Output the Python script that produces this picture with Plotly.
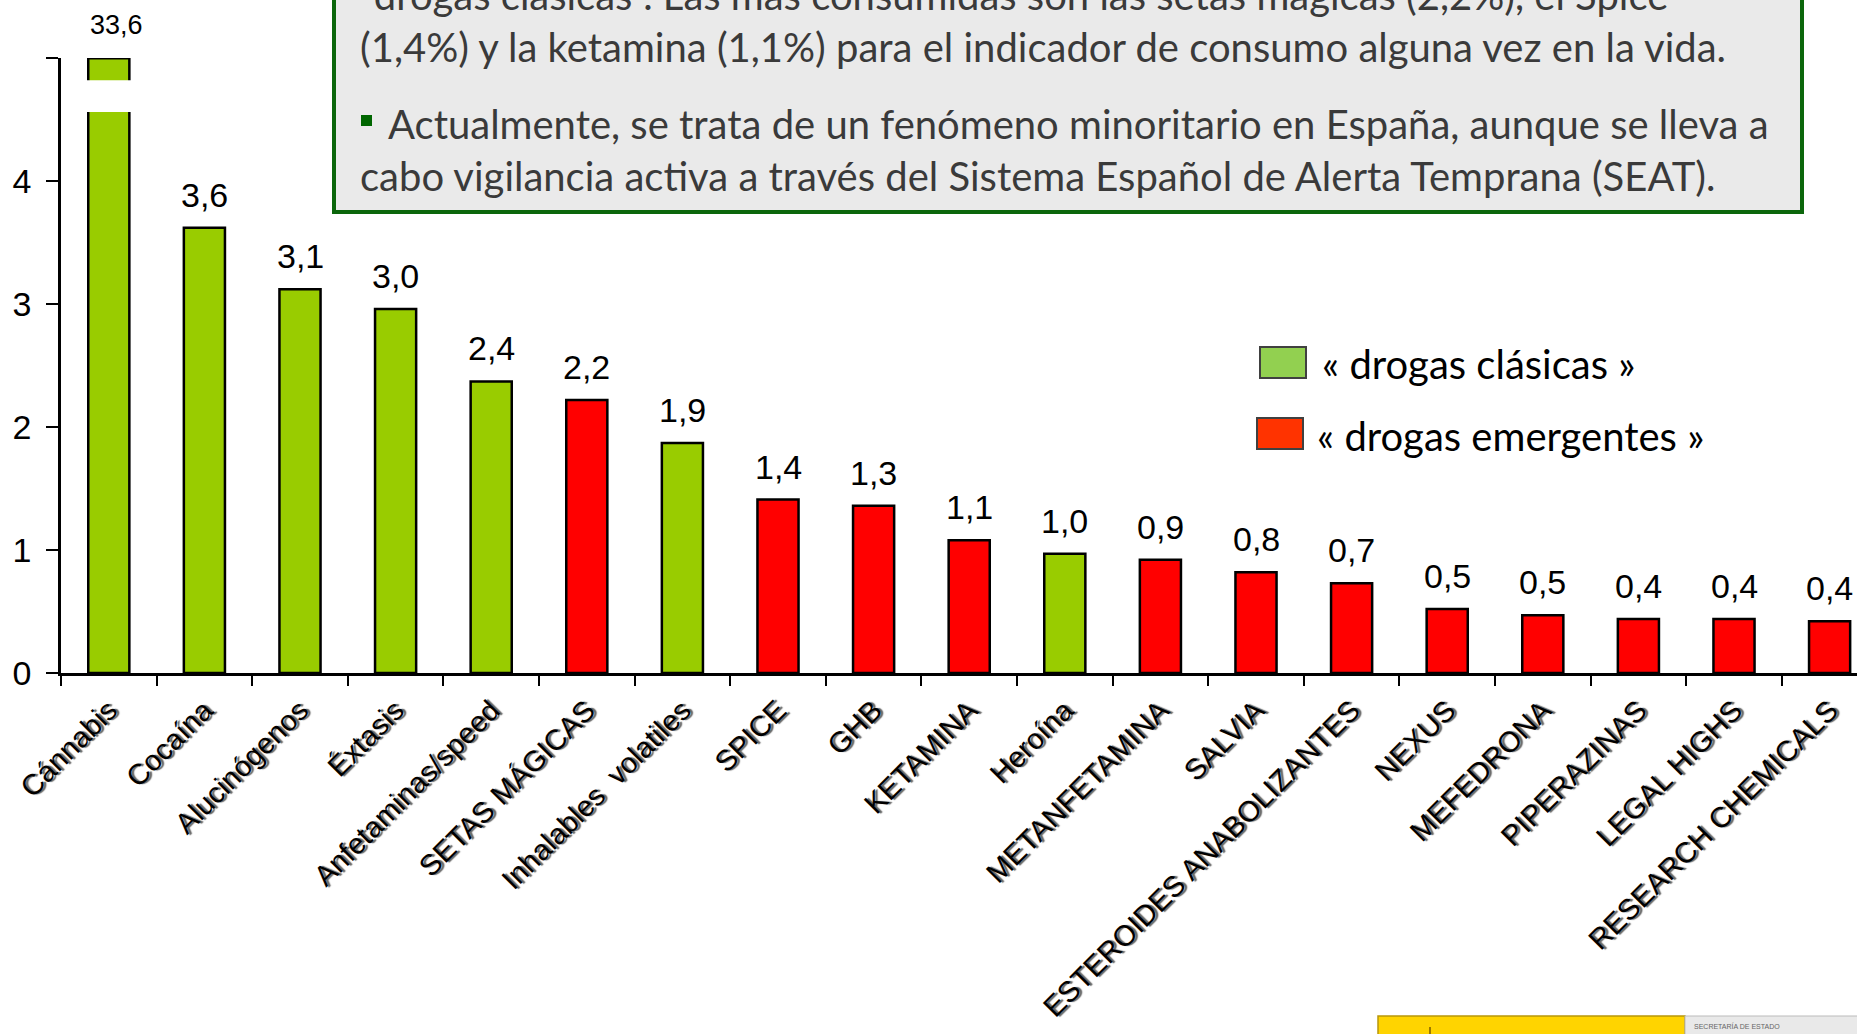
import plotly.graph_objects as go

categories = ["Cánnabis", "Cocaína", "Alucinógenos", "Éxtasis", "Anfetaminas/speed",
              "SETAS MÁGICAS", "Inhalables  volatiles", "SPICE", "GHB", "KETAMINA",
              "Heroína", "METANFETAMINA", "SALVIA", "ESTEROIDES ANABOLIZANTES", "NEXUS",
              "MEFEDRONA", "PIPERAZINAS", "LEGAL HIGHS", "RESEARCH CHEMICALS"]
values = [33.6, 3.62, 3.12, 2.96, 2.37, 2.22, 1.87, 1.41, 1.36, 1.08, 0.97, 0.92, 0.82,
          0.73, 0.52, 0.47, 0.44, 0.44, 0.42]
value_labels = ["33,6", "3,6", "3,1", "3,0", "2,4", "2,2", "1,9", "1,4", "1,3", "1,1", "1,0",
                "0,9", "0,8", "0,7", "0,5", "0,5", "0,4", "0,4", "0,4"]
kinds = ["clásica", "clásica", "clásica", "clásica", "clásica", "emergente", "clásica",
         "emergente", "emergente", "emergente", "clásica", "emergente", "emergente",
         "emergente", "emergente", "emergente", "emergente", "emergente", "emergente"]
y_ticks = [0, 1, 2, 3, 4, 5]
y_ticktext = ["0", "1", "2", "3", "4", ""]
legend_labels = ["« drogas clásicas »", "« drogas emergentes »"]
box_lines = [
    "\"drogas clásicas\". Las más consumidas son las setas mágicas (2,2%), el Spice",
    "(1,4%) y la ketamina (1,1%) para el indicador de consumo alguna vez en la vida.",
    "Actualmente, se trata de un fenómeno minoritario en España, aunque se lleva a",
    "cabo vigilancia activa a través del Sistema Español de Alerta Temprana (SEAT).",
]

BAR_COLORS = {"clásica": "#99CC00", "emergente": "#FF0000"}
W, H = 1857, 1034
L, R, T, B = 61, 1857, 58, 673
YMAX = 5


def px(X):
    return (X - L) / (R - L)


def py(Y):
    return (B - Y) / (B - T)


AXFONT = "Liberation Sans, Arial, sans-serif"
TXTFONT = "Lato, Carlito, Calibri, sans-serif"

fig = go.Figure()
fig.add_trace(go.Bar(
    x=categories, y=values,
    marker=dict(color=[BAR_COLORS[k] for k in kinds], line=dict(color="black", width=2.5)),
    width=0.43, hoverinfo="skip", showlegend=False,
))

annotations = []
for i, (v, lab) in enumerate(zip(values, value_labels)):
    if v > YMAX:
        annotations.append(dict(x=i, y=YMAX, xref="x", yref="y", text=lab, showarrow=False,
                                yanchor="bottom", yshift=16, xshift=8,
                                font=dict(family=AXFONT, size=27, color="black")))
    else:
        annotations.append(dict(x=i, y=v, xref="x", yref="y", text=lab, showarrow=False,
                                yanchor="bottom", yshift=12,
                                font=dict(family=AXFONT, size=34, color="black")))

shapes = []
# axis break on the out-of-range bar
for i, v in enumerate(values):
    if v > YMAX:
        shapes.append(dict(type="rect", xref="x", yref="y", x0=i - 0.26, x1=i + 0.26,
                           y0=4.56, y1=4.82, fillcolor="white", line=dict(width=0), layer="above"))
        shapes.append(dict(type="line", xref="x", yref="y", x0=i - 0.215, x1=i + 0.215,
                           y0=YMAX, y1=YMAX, line=dict(color="black", width=3), layer="above"))

# text box
shapes.append(dict(type="rect", xref="paper", yref="paper", x0=px(334), x1=px(1802),
                   y0=py(212), y1=py(-30), fillcolor="#EAEAEA",
                   line=dict(color="#0B660B", width=4), layer="above"))
shapes.append(dict(type="rect", xref="paper", yref="paper", x0=px(361), x1=px(372),
                   y0=py(126), y1=py(115), fillcolor="#006600", line=dict(width=0), layer="above"))

baselines = [8, 60, 137, 189]
xstarts = [358, 358, 386, 358]
fs_box = 40
for txt, bl, xs in zip(box_lines, baselines, xstarts):
    annotations.append(dict(x=px(xs), y=py(bl - 0.32 * fs_box), xref="paper", yref="paper",
                            text=txt, showarrow=False, xanchor="left", yanchor="middle",
                            font=dict(family=TXTFONT, size=fs_box, color="#3A3A3A")))

# legend
leg_boxes = [(1260, 1306, 347, 378, "#92D050"), (1257, 1303, 418, 449, "#FF3300")]
leg_text_x = [1320, 1315]
leg_baseline = [377, 449]
fs_leg = 40
for (x0, x1, y0, y1, c), lab, tx, bl in zip(leg_boxes, legend_labels, leg_text_x, leg_baseline):
    shapes.append(dict(type="rect", xref="paper", yref="paper", x0=px(x0), x1=px(x1),
                       y0=py(y1), y1=py(y0), fillcolor=c, line=dict(color="#404040", width=2)))
    annotations.append(dict(x=px(tx), y=py(bl - 0.32 * fs_leg), xref="paper", yref="paper",
                            text=lab, showarrow=False, xanchor="left", yanchor="middle",
                            font=dict(family=TXTFONT, size=fs_leg, color="black")))

# logo strip at bottom right
shapes.append(dict(type="rect", xref="paper", yref="paper", x0=px(1378), x1=px(1685),
                   y0=py(1045), y1=py(1016), fillcolor="#FFD400",
                   line=dict(color="#B8960A", width=1.5)))
shapes.append(dict(type="rect", xref="paper", yref="paper", x0=px(1685), x1=px(1870),
                   y0=py(1045), y1=py(1016), fillcolor="#E9E9E9",
                   line=dict(color="#BBBBBB", width=1)))
shapes.append(dict(type="line", xref="paper", yref="paper", x0=px(1430), x1=px(1430),
                   y0=py(1034), y1=py(1027), line=dict(color="#7A5A00", width=1.5)))
annotations.append(dict(x=px(1692), y=py(1026), xref="paper", yref="paper",
                        text="SECRETARÍA DE ESTADO", showarrow=False, xanchor="left",
                        yanchor="middle", font=dict(family=AXFONT, size=7, color="#666666")))

fig.update_layout(
    width=W, height=H,
    margin=dict(l=L, r=W - R, t=T, b=H - B, pad=0),
    paper_bgcolor="white", plot_bgcolor="white",
    shapes=shapes, annotations=annotations,
    xaxis=dict(type="category", range=[-0.5, (R - L) / 95.6 - 0.5], automargin=False,
               tickangle=-45, showline=True, linecolor="black", linewidth=2.5,
               ticks="outside", tickson="boundaries", ticklen=10, tickwidth=2,
               tickcolor="black", showgrid=False, zeroline=False, ticklabelstandoff=6,
               tickfont=dict(family=AXFONT, size=29, color="black",
                             shadow="2px 2px 1px #666")),
    yaxis=dict(range=[0, YMAX], tickvals=y_ticks, ticktext=y_ticktext, showline=True,
               automargin=False, ticklabelstandoff=8,
               linecolor="black", linewidth=2.5, ticks="outside", ticklen=12, tickwidth=2,
               tickcolor="black", showgrid=False, zeroline=False,
               tickfont=dict(family=AXFONT, size=34, color="black")),
)

fig.write_html("out.html", config={"displayModeBar": False},
               post_script="document.body.style.margin='0';document.body.style.overflow='hidden';")
